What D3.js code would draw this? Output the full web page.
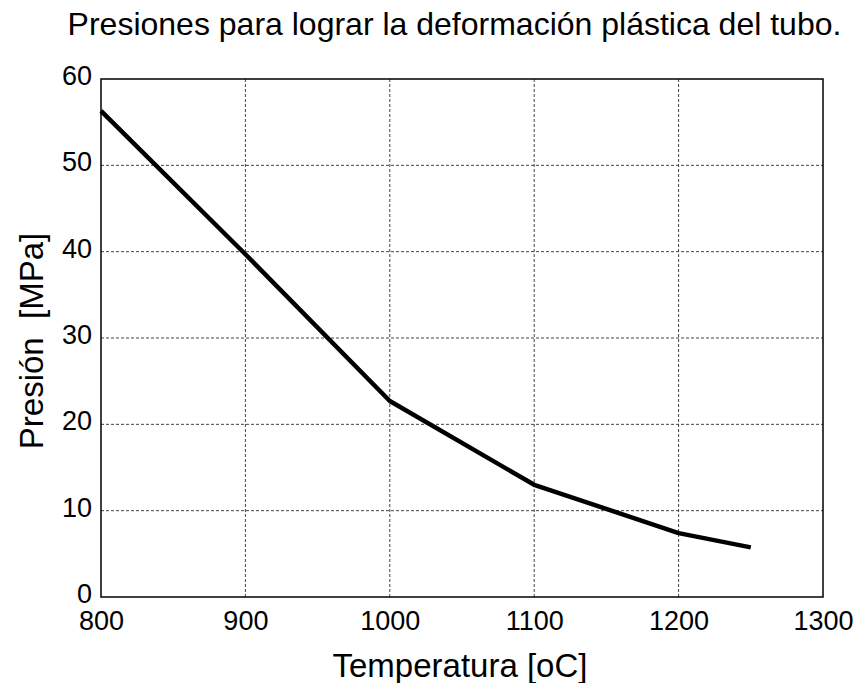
<!DOCTYPE html>
<html>
<head>
<meta charset="utf-8">
<script src="https://cdn.jsdelivr.net/npm/d3@7"></script>
<style>
  html, body { margin: 0; padding: 0; background: #fff; }
  svg { display: block; }
  text { font-family: "Liberation Sans", Arial, sans-serif; fill: #000; }
</style>
</head>
<body>
<svg id="chart" width="857" height="683"></svg>
<script>
const temperatures = [800, 900, 1000, 1100, 1200, 1250];
const pressures = [56.3, 39.7, 22.7, 13.0, 7.4, 5.75];
const xTicks = [800, 900, 1000, 1100, 1200, 1300];
const yTicks = [0, 10, 20, 30, 40, 50, 60];
const titleText = "Presiones para lograr la deformación plástica del tubo.";
const xLabel = "Temperatura [oC]";
const yLabel = "Presión  [MPa]";

(function () {
const svg = d3.select("#chart");
const pL = 101, pR = 823, pT = 79, pB = 597;

const x = d3.scaleLinear().domain([800, 1300]).range([pL, pR]);
const y = d3.scaleLinear().domain([0, 60]).range([pB, pT]);

svg.append("rect").attr("x", 0).attr("y", 0).attr("width", 857).attr("height", 683).attr("fill", "#fff");

// grid
const grid = svg.append("g");
grid.selectAll("line.vg").data(xTicks.slice(1, -1)).enter().append("line")
  .attr("x1", d => x(d)).attr("x2", d => x(d))
  .attr("y1", pT).attr("y2", pB)
  .attr("stroke", "#444").attr("stroke-width", 1).attr("stroke-dasharray", "3,2");
grid.selectAll("line.hg").data(yTicks.slice(1, -1)).enter().append("line")
  .attr("x1", pL).attr("x2", pR)
  .attr("y1", d => y(d)).attr("y2", d => y(d))
  .attr("stroke", "#444").attr("stroke-width", 1).attr("stroke-dasharray", "3,2");

// axes
const xAxis = svg.append("g").attr("transform", `translate(0,${pB})`)
  .call(d3.axisBottom(x).tickValues(xTicks).tickSize(0).tickPadding(14).tickFormat(d3.format("d")));
xAxis.select(".domain").remove();
xAxis.selectAll("text").attr("font-size", 27).attr("font-family", "Liberation Sans, Arial, sans-serif").attr("fill", "#000").attr("dy", "0.71em");

const yAxis = svg.append("g").attr("transform", `translate(${pL},0)`)
  .call(d3.axisLeft(y).tickValues(yTicks).tickSize(0).tickPadding(9).tickFormat(d3.format("d")));
yAxis.select(".domain").remove();
yAxis.selectAll("text").attr("font-size", 27).attr("font-family", "Liberation Sans, Arial, sans-serif").attr("fill", "#000").attr("dy", "0.2em");

// box
svg.append("rect").attr("x", pL).attr("y", pT).attr("width", pR - pL).attr("height", pB - pT)
  .attr("fill", "none").attr("stroke", "#000").attr("stroke-width", 1.5);

// data line
const line = d3.line().x((d, i) => x(temperatures[i])).y(d => y(d));
svg.append("path").datum(pressures)
  .attr("d", line).attr("fill", "none").attr("stroke", "#000").attr("stroke-width", 4.5)
  .attr("stroke-linejoin", "round");

// title
svg.append("text").attr("x", 454.5).attr("y", 35).attr("text-anchor", "middle")
  .attr("font-size", 32).text(titleText);

// x label
svg.append("text").attr("x", 460).attr("y", 677).attr("text-anchor", "middle")
  .attr("font-size", 33).text(xLabel);

// y label
svg.append("text").attr("transform", "translate(43,341) rotate(-90)").attr("text-anchor", "middle")
  .attr("font-size", 33).style("white-space", "pre").text(yLabel);
})();
</script>
</body>
</html>
